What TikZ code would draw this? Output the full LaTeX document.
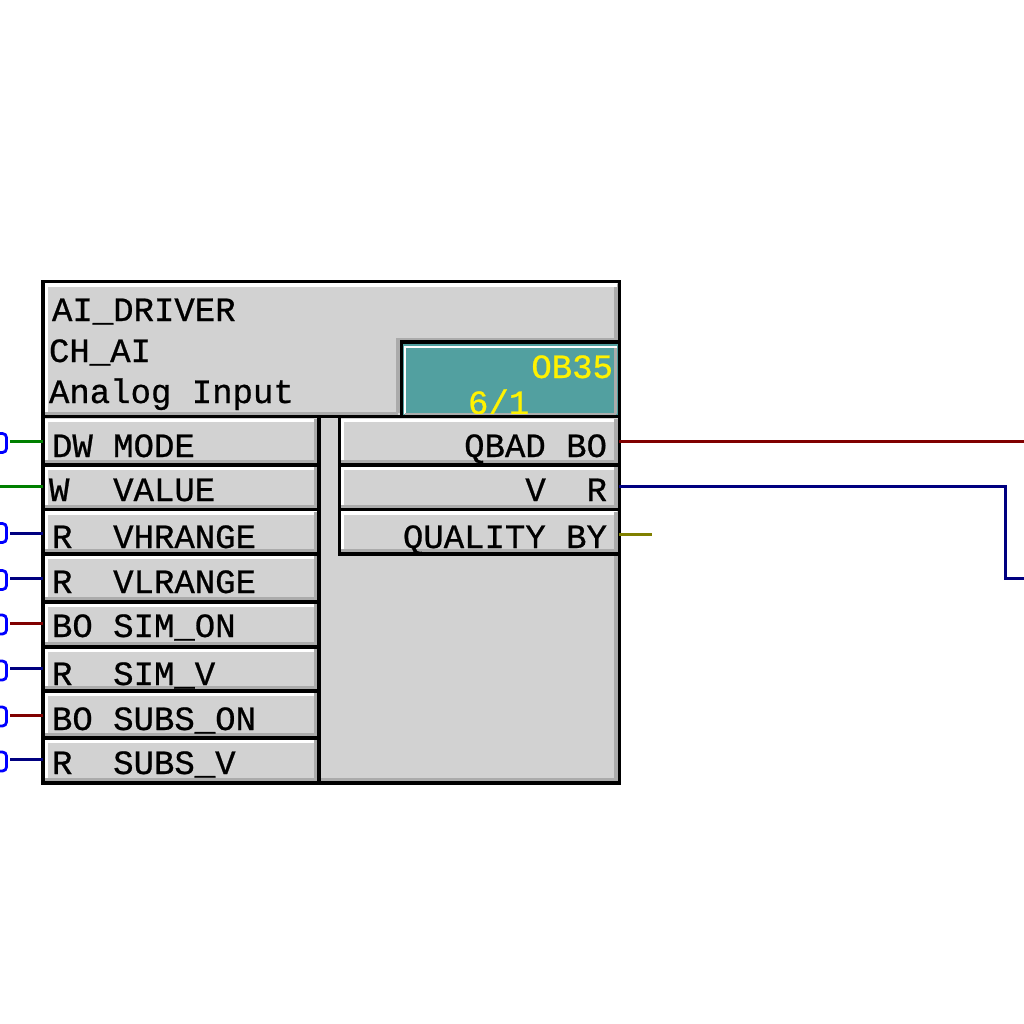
\documentclass[tikz,border=0pt]{standalone}
\usepackage{fontspec}
\setmonofont[AutoFakeBold=0.7]{Liberation Mono}
\definecolor{panel}{HTML}{D2D2D2}
\definecolor{bevelgray}{HTML}{ABABAB}
\definecolor{tealfill}{HTML}{52A0A0}
\definecolor{wgreen}{HTML}{008000}
\definecolor{wnavy}{HTML}{000080}
\definecolor{wred}{HTML}{800000}
\definecolor{wolive}{HTML}{808000}
\tikzset{
  cellbox/.style={draw=black,line width=3.3pt,fill=panel,rectangle,inner sep=0pt,outer sep=0pt,anchor=north west},
  lbl/.style={inner sep=0pt,outer sep=0pt,anchor=base west,font=\ttfamily\bfseries\fontsize{34}{34}\selectfont,text=black},
  lblr/.style={lbl,anchor=base east},
  litedge/.style={line width=3.2pt,draw=white},
  dimedge/.style={line width=3.4pt,draw=bevelgray},
  wirel/.style={line width=3pt},
  pinbox/.style={draw=blue,line width=2.8pt,rectangle,rounded corners=4pt,minimum width=26pt,minimum height=19pt,inner sep=0pt,outer sep=0pt,anchor=east}
}
% #1 name, #2 x0, #3 y0, #4 x1, #5 y1 (centre lines of the black border)
\newcommand\cellat[5]{%
  \pgfmathsetmacro\cw{#4-#2}\pgfmathsetmacro\ch{#5-#3}%
  \node[cellbox,minimum width=\cw pt,minimum height=\ch pt] (#1) at (#2,#3) {};
  \draw[litedge] (#2+3.4,#5-2) -- (#2+3.4,#3+3.4) -- (#4-2,#3+3.4);
  \draw[dimedge] (#2+2,#5-3.3) -- (#4-3.3,#5-3.3) -- (#4-3.3,#3+2);
  \draw[line width=3.3pt,black] (#1.south west) rectangle (#1.north east);
}
\begin{document}
\begin{tikzpicture}[x=1pt,y=-1pt]
\useasboundingbox (0,0) rectangle (1024,1024);
\fill[white] (0,0) rectangle (1024,1024);
% outer block
\node[cellbox,minimum width=576.3pt,minimum height=501.3pt] (block) at (43,281.7) {};
\draw[dimedge] (45,779.7) -- (616,779.7) -- (616,284);
\draw[litedge] (46.4,416) -- (46.4,285) -- (617,285);
% header notch and OB cell
\draw[line width=4pt,draw=bevelgray] (398,413) -- (398,340) -- (617,340);
\draw[dimedge] (45,413.4) -- (398,413.4);
\node[cellbox,minimum width=217.8pt,minimum height=74.7pt,fill=tealfill] (ob) at (401.5,342) {};
\draw[line width=2.4pt,draw=white] (404.7,414) -- (404.7,346.8) -- (617,346.8);
\draw[line width=3pt,draw=bevelgray] (405,414.5) -- (616,414.5) (615.7,348) -- (615.7,414);
\begin{scope}
\clip (406,348) rectangle (614,413);
\node[lblr,text=yellow] (obname) at (613,378) {OB35};
\node[lbl,text=yellow] (obrate) at (468,414) {6/1};
\end{scope}
% input rows
\cellat{mode}{43}{416.7}{319}{465}
\cellat{value}{43}{465}{319}{509.5}
\cellat{vhrange}{43}{509.5}{319}{554}
\cellat{vlrange}{43}{554}{319}{602}
\cellat{simon}{43}{602}{319}{647}
\cellat{simv}{43}{647}{319}{691}
\cellat{subson}{43}{691}{319}{738}
\cellat{subsv}{43}{738}{319}{783}
% output rows
\cellat{qbad}{339.3}{416.7}{619.3}{465}
\cellat{v}{339.3}{465}{619.3}{509.5}
\cellat{quality}{339.3}{509.5}{619.3}{554}
\draw[line width=3.3pt,black] (mode.north west) -- (qbad.north east);
\draw[line width=3.3pt,black] (block.south west) rectangle (block.north east);
% header text
\node[lbl] (tdriver) at (52,321) {AI\_DRIVER};
\node[lbl] (tch) at (49,362) {CH\_AI};
\node[lbl] (tanalog) at (49,403) {Analog Input};
% row text
\node[lbl] (tmode) at (52,457) {DW MODE};
\node[lbl] (tvalue) at (49,501) {W\ \ \hspace{3pt}VALUE};
\node[lbl] (tvh) at (52,548) {R\ \ VHRANGE};
\node[lbl] (tvl) at (52,593) {R\ \ VLRANGE};
\node[lbl] (tson) at (52,637) {BO SIM\_ON};
\node[lbl] (tsv) at (52,685) {R\ \ SIM\_V};
\node[lbl] (tsubon) at (52,730) {BO SUBS\_ON};
\node[lbl] (tsubv) at (52,774) {R\ \ SUBS\_V};
\node[lblr] (tqbad) at (607,457) {QBAD BO};
\node[lblr] (tv) at (607,501) {V\ \ R};
\node[lblr] (tq) at (607,548) {QUALITY BY};
% pins at the left edge
\node[pinbox] (pmode) at (6.5,443) {};
\node[pinbox] (pvh) at (6.5,533) {};
\node[pinbox] (pvl) at (6.5,580) {};
\node[pinbox] (pson) at (6.5,624.5) {};
\node[pinbox] (psv) at (6.5,670.5) {};
\node[pinbox] (psubon) at (6.5,716.5) {};
\node[pinbox] (psubv) at (6.5,761.5) {};
% wire ends
\coordinate (emode) at (10,441.5);
\coordinate (evalue) at (0,486.5);
\coordinate (evh) at (10,533.5);
\coordinate (evl) at (10,578.5);
\coordinate (eson) at (10,623.5);
\coordinate (esv) at (10,668.5);
\coordinate (esubon) at (10,715.5);
\coordinate (esubv) at (10,759.5);
\coordinate (eqbad) at (1024,441.5);
\coordinate (ev) at (1024,578.5);
\coordinate (bend) at (1005.5,486.5);
\coordinate (eq) at (652,534.5);
% wires
\draw[wirel,wgreen] (emode) -- (mode.west |- emode);
\draw[wirel,wgreen] (evalue) -- (value.west |- evalue);
\draw[wirel,wnavy] (evh) -- (vhrange.west |- evh);
\draw[wirel,wnavy] (evl) -- (vlrange.west |- evl);
\draw[wirel,wred] (eson) -- (simon.west |- eson);
\draw[wirel,wnavy] (esv) -- (simv.west |- esv);
\draw[wirel,wred] (esubon) -- (subson.west |- esubon);
\draw[wirel,wnavy] (esubv) -- (subsv.west |- esubv);
\draw[wirel,wred] (qbad.east |- eqbad) -- (eqbad);
\draw[wirel,wnavy,line join=miter] (v.east |- bend) -- (bend) -- (bend |- ev) -- (ev);
\draw[wirel,wolive] (quality.east |- eq) -- (eq);
\end{tikzpicture}
\end{document}
